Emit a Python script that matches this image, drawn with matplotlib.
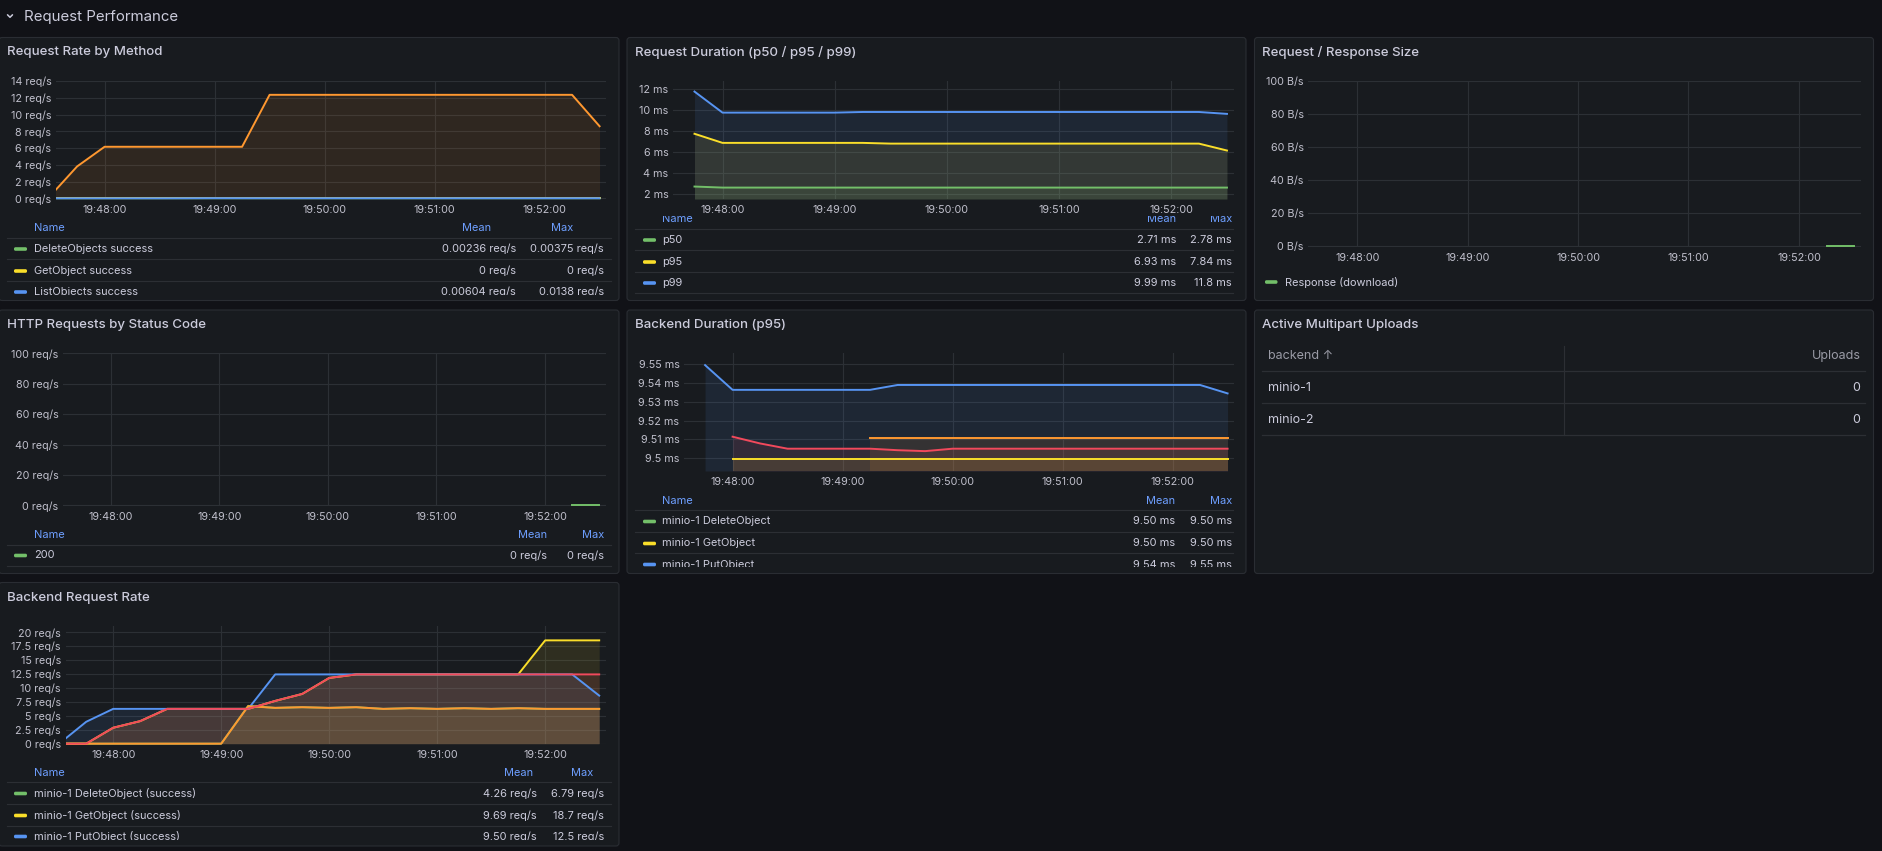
import numpy as np
import pandas as pd
import matplotlib
matplotlib.use("Agg")
import matplotlib.pyplot as plt
import matplotlib.dates as mdates
from matplotlib.patches import FancyBboxPatch, Rectangle
from matplotlib.ticker import FuncFormatter

plt.rcParams['font.family'] = ['Inter', 'DejaVu Sans']

W, H = 1882, 851
PAGE = '#111217'
PANEL = '#181b1f'
BORDER = '#2a2d33'
GRID = '#2c3035'
SEP = '#2c2f34'
TEXT = '#ccccdc'
TICK = '#c0c0cc'
DIM = '#9a9ba6'
LINK = '#6e9fff'
GREEN, YELLOW, BLUE, ORANGE, RED = '#73bf69', '#fade2a', '#5794f2', '#ff9830', '#f2495c'

nan = np.nan

# 15 s samples 19:47:30 .. 19:52:30, dashboard range is last 5 minutes
times = pd.date_range('2024-05-14 19:47:30', '2024-05-14 19:52:30', freq='15s')
t_from = pd.Timestamp('2024-05-14 19:47:33.5')
t_to = pd.Timestamp('2024-05-14 19:52:33.5')

# Request Rate by Method (req/s)
rate_delete = [0, 0, 0, 0, 0, 0.0015, 0.00375, 0.0032, 0.0032, 0.0032, 0.0032, 0.0032, 0.0032, 0.0032,
               0.0032, 0.0032, 0.0032, 0.0032, 0.0032, 0.0032, 0.0032]
rate_get = [0] * 21
rate_list = [0, 0, 0, 0, 0, 0.0046, 0.0138, 0.0092, 0.0069, 0.0069, 0.0069, 0.0069, 0.0069, 0.0069,
             0.0069, 0.0069, 0.0069, 0.0069, 0.0069, 0.0069, 0.0069]
rate_put = [0.2, 3.8, 6.15, 6.15, 6.15, 6.15, 6.15, 6.15, 12.35, 12.35, 12.35, 12.35, 12.35, 12.35,
            12.35, 12.35, 12.35, 12.35, 12.35, 12.35, 8.6]

# Request Duration (ms)
dur_p50 = [nan, 2.68, 2.58, 2.58, 2.58, 2.58, 2.58, 2.58, 2.58, 2.58, 2.58, 2.58, 2.58, 2.58,
           2.58, 2.58, 2.58, 2.58, 2.58, 2.58, 2.58]
dur_p95 = [nan, 7.72, 6.85, 6.85, 6.85, 6.85, 6.85, 6.85, 6.78, 6.78, 6.78, 6.78, 6.78, 6.78,
           6.78, 6.78, 6.78, 6.78, 6.78, 6.78, 6.12]
dur_p99 = [nan, 11.75, 9.74, 9.74, 9.74, 9.74, 9.74, 9.80, 9.80, 9.80, 9.80, 9.80, 9.80, 9.80,
           9.80, 9.80, 9.80, 9.80, 9.80, 9.80, 9.62]

# Request / Response Size (B/s) and status codes (req/s)
size_download = [nan] * 19 + [0, 0]
status_200 = [nan] * 19 + [0, 0]

# Backend Duration p95 (ms)
bdur_put = [nan, 9.5496, 9.5364, 9.5364, 9.5364, 9.5364, 9.5364, 9.5364, 9.5390, 9.5390, 9.5390,
            9.5390, 9.5390, 9.5390, 9.5390, 9.5390, 9.5390, 9.5390, 9.5390, 9.5390, 9.5345]
bdur_get = [nan, nan] + [9.4997] * 19
bdur_s4 = [nan] * 7 + [9.5106] * 14
bdur_s5 = [nan, nan, 9.5114, 9.5078, 9.5050, 9.5050, 9.5050, 9.5050, 9.5042, 9.5037, 9.5050,
           9.5050, 9.5050, 9.5050, 9.5050, 9.5050, 9.5050, 9.5050, 9.5050, 9.5050, 9.5050]

# Backend Request Rate (req/s)
brate_delete = [0, 0, 0, 0, 0, 0, 0, 6.79, 6.43, 6.55, 6.43, 6.55, 6.25, 6.37, 6.25, 6.37, 6.25,
                6.37, 6.25, 6.25, 6.25]
brate_get = [0, 0, 2.86, 4.05, 6.25, 6.25, 6.25, 6.25, 7.68, 8.93, 11.8, 12.44, 12.44, 12.44,
             12.44, 12.44, 12.44, 12.44, 18.55, 18.55, 18.55]
brate_put = [0, 3.93, 6.25, 6.25, 6.25, 6.25, 6.25, 6.25, 12.44, 12.44, 12.44, 12.44, 12.44, 12.44,
             12.44, 12.44, 12.44, 12.44, 12.44, 12.44, 8.63]
brate_s4 = [0, 0, 0, 0, 0, 0, 0, 6.73, 6.43, 6.55, 6.43, 6.55, 6.25, 6.37, 6.25, 6.37, 6.25,
            6.37, 6.25, 6.25, 6.25]
brate_s5 = [0, 0, 2.86, 4.05, 6.25, 6.25, 6.25, 6.25, 7.68, 8.93, 11.8, 12.44, 12.44, 12.44,
            12.44, 12.44, 12.44, 12.44, 12.44, 12.44, 12.44]

# Active Multipart Uploads table
upload_backends = ['minio-1', 'minio-2']
upload_counts = [0, 0]


def fs(px):
    return px * 0.72


fig = plt.figure(figsize=(W / 100, H / 100), dpi=100, facecolor=PAGE)
bg = fig.add_axes([0, 0, 1, 1])
bg.set_xlim(0, W)
bg.set_ylim(H, 0)
bg.axis('off')

# row header
bg.plot([7.5, 10, 12.5], [14.8, 17.3, 14.8], color=TEXT, lw=1.1, solid_capstyle='round')
bg.text(24, 16.5, 'Request Performance', color=TEXT, fontsize=fs(15), va='center')


def panel(x0, y0, x1, y1, title):
    bg.add_patch(FancyBboxPatch((x0, y0), x1 - x0, y1 - y0, boxstyle='round,pad=0,rounding_size=3',
                                fc=PANEL, ec=BORDER, lw=0.8))
    bg.text(x0 + 8, y0 + 15, title, color=TEXT, fontsize=fs(13.3), fontweight='medium', va='center')


def chart(x0, y0, x1, y1, ylim, yticks, unit):
    ax = fig.add_axes([x0 / W, 1 - y1 / H, (x1 - x0) / W, (y1 - y0) / H])
    ax.set_facecolor('none')
    ax.set_xlim(t_from, t_to)
    ax.set_ylim(*ylim)
    ax.set_yticks(yticks)
    ax.yaxis.set_major_formatter(FuncFormatter(lambda v, p: f'{v:g} {unit}'))
    ax.xaxis.set_major_locator(mdates.MinuteLocator())
    ax.xaxis.set_major_formatter(mdates.DateFormatter('%H:%M:%S'))
    ax.grid(True, color=GRID, lw=0.8)
    ax.set_axisbelow(True)
    ax.tick_params(length=0, labelsize=fs(10.8), colors=TICK)
    ax.tick_params(axis='y', pad=3.3)
    ax.tick_params(axis='x', pad=4.2)
    for s in ax.spines.values():
        s.set_visible(False)
    return ax


def series(ax, vals, color, base):
    ax.fill_between(times, vals, base, color=color, alpha=0.1, lw=0)
    line, = ax.plot(times, vals, color=color, lw=1.4)
    # clip at the time edges only, so lines sitting on the axis floor stay whole
    line.set_clip_path(Rectangle((0, -0.05), 1, 1.1, transform=ax.transAxes))


def legend(lx0, lx1, sw_x, txt_x, head_y, head_r, seps, rows_y, rows, val_r, clip):
    cp = Rectangle((lx0 - 10, clip[0]), lx1 - lx0 + 20, clip[1] - clip[0], transform=bg.transData)
    items = [bg.text(txt_x, head_y, 'Name', color=LINK, fontsize=fs(11), va='center')]
    items.append(bg.text(head_r[0], head_y, 'Mean', color=LINK, fontsize=fs(11), va='center', ha='right'))
    items.append(bg.text(head_r[1], head_y, 'Max', color=LINK, fontsize=fs(11), va='center', ha='right'))
    for yy in seps:
        items += bg.plot([lx0, lx1], [yy, yy], color=SEP, lw=0.8)
    for yy, (name, color, mean, mx) in zip(rows_y, rows):
        items.append(bg.add_patch(FancyBboxPatch((sw_x, yy - 1.8), 13, 3.6,
                                                 boxstyle='round,pad=0,rounding_size=1.5', fc=color, lw=0)))
        items.append(bg.text(txt_x, yy, name, color=TEXT, fontsize=fs(11), va='center'))
        items.append(bg.text(val_r[0], yy, mean, color=TEXT, fontsize=fs(11), va='center', ha='right'))
        items.append(bg.text(val_r[1], yy, mx, color=TEXT, fontsize=fs(11), va='center', ha='right'))
    for it in items:
        it.set_clip_on(True)
        it.set_clip_path(cp)


C1, C2, C3 = (-1, 619), (627, 1246), (1254.5, 1873.5)
R1, R2, R3 = (37.5, 300.5), (310, 573.5), (582.5, 846)

# --- Request Rate by Method
panel(C1[0], R1[0], C1[1], R1[1], 'Request Rate by Method')
ax = chart(56, 81, 606, 199, (-0.084, 14), np.arange(0, 15, 2), 'req/s')
for vals, col in [(rate_delete, GREEN), (rate_get, YELLOW), (rate_list, BLUE), (rate_put, ORANGE)]:
    series(ax, vals, col, 0)
legend(7, 611.5, 14, 34, 227.8, (491, 573), [238.3, 259.3, 281], [249, 271, 292],
       [('DeleteObjects success', GREEN, '0.00236 req/s', '0.00375 req/s'),
        ('GetObject success', YELLOW, '0 req/s', '0 req/s'),
        ('ListObjects success', BLUE, '0.00604 req/s', '0.0138 req/s')],
       (516, 604), (200, 294.5))

# --- Request Duration
panel(C2[0], R1[0], C2[1], R1[1], 'Request Duration (p50 / p95 / p99)')
ax = chart(673, 81, 1233.5, 199, (1.49, 12.76), np.arange(2, 13, 2), 'ms')
for vals, col in [(dur_p50, GREEN), (dur_p95, YELLOW), (dur_p99, BLUE)]:
    series(ax, vals, col, 1.49)
legend(635, 1233, 643, 662, 218.5, (1176, 1232), [229.3, 250.3, 272.3, 293.3], [240, 262, 283],
       [('p50', GREEN, '2.71 ms', '2.78 ms'),
        ('p95', YELLOW, '6.93 ms', '7.84 ms'),
        ('p99', BLUE, '9.99 ms', '11.8 ms')],
       (1176, 1232), (215.5, 296))

# --- Request / Response Size
panel(C3[0], R1[0], C3[1], R1[1], 'Request / Response Size')
ax = chart(1308.4, 81, 1860.6, 246.7, (-0.42, 100), np.arange(0, 101, 20), 'B/s')
series(ax, size_download, GREEN, 0)
bg.add_patch(FancyBboxPatch((1265, 280.2), 12.5, 3.6, boxstyle='round,pad=0,rounding_size=1.5', fc=GREEN, lw=0))
bg.text(1285.5, 282.5, 'Response (download)', color=TEXT, fontsize=fs(11), va='center')

# --- HTTP Requests by Status Code
panel(C1[0], R2[0], C1[1], R2[1], 'HTTP Requests by Status Code')
ax = chart(63, 353.3, 605.5, 506, (-0.46, 100), np.arange(0, 101, 20), 'req/s')
series(ax, status_200, GREEN, 0)
legend(7, 611.5, 14, 34, 534.5, (547, 604), [544.5, 566], [555.5],
       [('200', GREEN, '0 req/s', '0 req/s')], (547, 604), (480, 570))

# --- Backend Duration (p95)
panel(C2[0], R2[0], C2[1], R2[1], 'Backend Duration (p95)')
ax = chart(684, 353.3, 1234, 471, (9.4931, 9.5559), [9.50, 9.51, 9.52, 9.53, 9.54, 9.55], 'ms')
for vals, col in [(bdur_put, BLUE), (bdur_s5, RED), (bdur_get, YELLOW), (bdur_s4, ORANGE)]:
    series(ax, vals, col, 9.4931)
legend(635, 1233, 643, 662, 500.5, (1175, 1232), [510.3, 532, 553.3], [521.5, 543.5, 564.5],
       [('minio-1 DeleteObject', GREEN, '9.50 ms', '9.50 ms'),
        ('minio-1 GetObject', YELLOW, '9.50 ms', '9.50 ms'),
        ('minio-1 PutObject', BLUE, '9.54 ms', '9.55 ms')],
       (1175, 1232), (480, 566.5))

# --- Active Multipart Uploads (table)
panel(C3[0], R2[0], C3[1], R2[1], 'Active Multipart Uploads')
bg.text(1267.7, 356, 'backend ↑', color=DIM, fontsize=fs(12.5), va='center')
bg.text(1860.6, 356, 'Uploads', color=DIM, fontsize=fs(12.5), va='center', ha='right')
bg.plot([1563.6, 1563.6], [346, 435.3], color=SEP, lw=0.8)
row_lines = [371.3, 403.3, 435.3]
for yy in row_lines:
    bg.plot([1262, 1865.5], [yy, yy], color=SEP, lw=0.9)
for i, (name, cnt) in enumerate(zip(upload_backends, upload_counts)):
    yy = (row_lines[i] + row_lines[i + 1]) / 2 + 0.5
    bg.text(1267.7, yy, name, color=TEXT, fontsize=fs(12.5), va='center')
    bg.text(1860.6, yy, str(cnt), color=TEXT, fontsize=fs(12.5), va='center', ha='right')

# --- Backend Request Rate
panel(C1[0], R3[0], C1[1], R3[1], 'Backend Request Rate')
ax = chart(65.5, 626, 605.5, 744.4, (-0.13, 21.13), np.arange(0, 20.1, 2.5), 'req/s')
for vals, col in [(brate_delete, GREEN), (brate_get, YELLOW), (brate_put, BLUE),
                  (brate_s4, ORANGE), (brate_s5, RED)]:
    series(ax, vals, col, 0)
legend(7, 611.5, 14, 34, 772.5, (533, 593), [782.3, 804.3, 825.7], [793.5, 815.5, 836.5],
       [('minio-1 DeleteObject (success)', GREEN, '4.26 req/s', '6.79 req/s'),
        ('minio-1 GetObject (success)', YELLOW, '9.69 req/s', '18.7 req/s'),
        ('minio-1 PutObject (success)', BLUE, '9.50 req/s', '12.5 req/s')],
       (537, 604), (760, 839.5))

fig.savefig('out.png', dpi=100, facecolor=PAGE)
